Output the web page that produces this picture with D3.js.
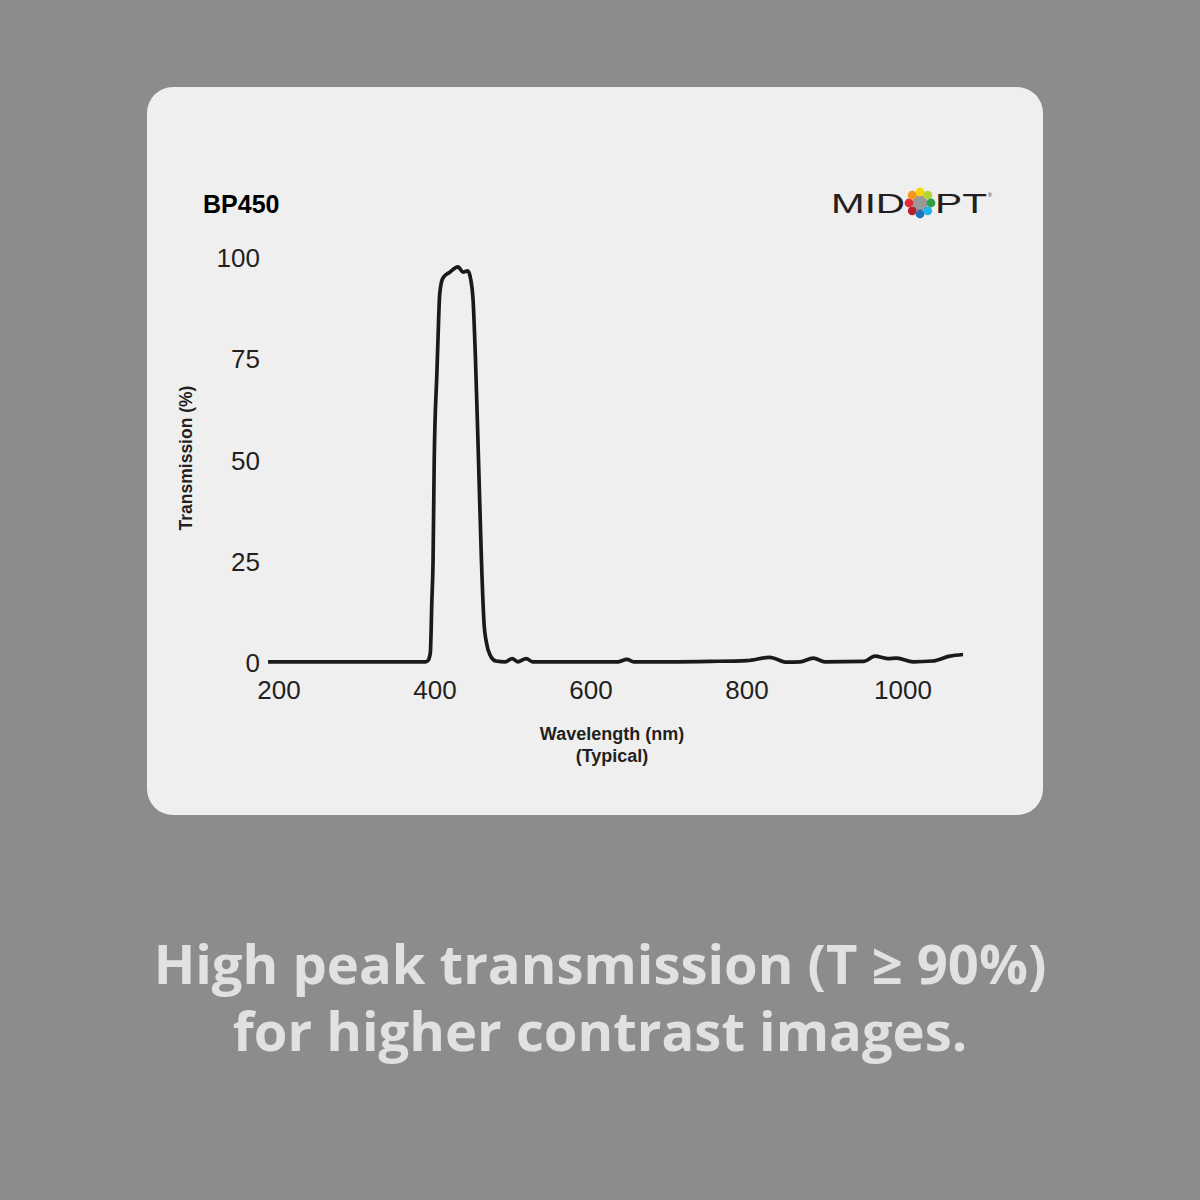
<!DOCTYPE html>
<html>
<head>
<meta charset="utf-8">
<script src="https://cdn.jsdelivr.net/npm/d3@7"></script>
<style>
html,body{margin:0;padding:0;background:#8c8c8c;}
svg{display:block;}
</style>
</head>
<body>
<svg id="chart" width="1200" height="1200"></svg>
<script>
// ---- data ----
const title = "BP450";
const wavelengths = [186,250,300,350,388,391,394,396,397.5,399,402.5,404,406,410,419,429.5,436,442,446,448.7,451.9,455.8,459.6,462.8,466,470.5,478,490,499,506,517,525,560,600,635,646,655,700,753,800,829,851,868,885,900,950,964,980,992,1013,1038,1060,1077];
const transmission = [0.3,0.3,0.3,0.3,0.3,0.6,2.5,15.5,25,50,72,81,91,95,96.5,97.8,96.5,96.8,94.5,90,75,50,25,10,5,2,0.5,0.3,1.1,0.3,1.1,0.3,0.3,0.3,0.3,0.9,0.3,0.3,0.4,0.6,1.4,0.2,0.3,1.2,0.3,0.4,1.7,1.1,1.2,0.3,0.5,1.7,2.1];
const xTicks = [200,400,600,800,1000];
const yTicks = [0,25,50,75,100];
const xTitle = ["Wavelength (nm)","(Typical)"];
const yTitle = "Transmission (%)";
const caption = ["High peak transmission (T \u2265 90%)","for higher contrast images."];
const logoDotColors = ["#f5d60f","#b5d335","#2e9e48","#1fb4e6","#1b75bb","#b8202e","#e22b36","#f7941d"];

const svg = d3.select("#chart");
svg.append("rect").attr("width",1200).attr("height",1200).attr("fill","#8c8c8c");
svg.append("rect").attr("x",147).attr("y",87).attr("width",896).attr("height",728)
  .attr("rx",26).attr("fill","#efefef");

const x = d3.scaleLinear().domain([200,1000]).range([279,903]);
const y = d3.scaleLinear().domain([0,100]).range([663,258]);

const txtColor = "#231f20";
const font = "Liberation Sans, Arial, sans-serif";

// y tick labels
svg.append("g").selectAll("text").data(yTicks).join("text")
  .attr("x",260).attr("y",d=>y(d)).attr("dy","0.35em")
  .attr("text-anchor","end").attr("font-family",font)
  .attr("font-size",26).attr("fill",txtColor).text(d=>d);

// x tick labels
svg.append("g").selectAll("text").data(xTicks).join("text")
  .attr("x",d=>x(d)).attr("y",699)
  .attr("text-anchor","middle").attr("font-family",font)
  .attr("font-size",26).attr("fill",txtColor).text(d=>d);

// axis titles
svg.append("text").attr("transform","translate(192,458) rotate(-90)")
  .attr("text-anchor","middle").attr("font-family",font)
  .attr("font-weight","bold").attr("font-size",17.5).attr("fill",txtColor).text(yTitle);
svg.append("g").selectAll("text").data(xTitle).join("text")
  .attr("x",612).attr("y",(d,i)=>740+i*22)
  .attr("text-anchor","middle").attr("font-family",font)
  .attr("font-weight","bold").attr("font-size",18).attr("fill",txtColor).text(d=>d);

// title
svg.append("text").attr("x",203).attr("y",213)
  .attr("font-family",font).attr("font-weight","bold")
  .attr("font-size",25).attr("fill","#000").text(title);

// curve
const pts = wavelengths.map((w,i)=>[w,transmission[i]]);
const line = d3.line().x(d=>x(d[0])).y(d=>y(d[1])).curve(d3.curveMonotoneX);
svg.append("path").datum(pts).attr("d",line).attr("fill","none")
  .attr("stroke","#1a1a1a").attr("stroke-width",3.7).attr("stroke-linejoin","round");

// logo
const logo = svg.append("g");
logo.append("text").attr("x",831).attr("y",213).attr("textLength",74).attr("lengthAdjust","spacingAndGlyphs")
  .attr("font-family",font).attr("font-size",28).attr("fill","#231f20").text("MID");
logo.append("text").attr("x",935).attr("y",213).attr("textLength",52).attr("lengthAdjust","spacingAndGlyphs")
  .attr("font-family",font).attr("font-size",28).attr("fill","#231f20").text("PT");
logo.append("text").attr("x",988).attr("y",197).attr("font-family",font)
  .attr("font-size",5).attr("fill","#231f20").text("\u00AE");
logo.append("circle").attr("cx",920).attr("cy",203).attr("r",8).attr("fill","#9a9a9a");
logo.selectAll("circle.dot").data(logoDotColors).join("circle").attr("class","dot")
  .attr("cx",(d,i)=>920+11*Math.sin(i*Math.PI/4))
  .attr("cy",(d,i)=>203-11*Math.cos(i*Math.PI/4))
  .attr("r",4.4).attr("fill",d=>d);

// caption
const cap = svg.append("g").selectAll("text").data(caption).join("text")
  .attr("x",600).attr("y",(d,i)=>984+i*67)
  .attr("text-anchor","middle").attr("font-family","Open Sans, sans-serif")
  .attr("font-weight","bold").attr("font-size",52).attr("fill","#e1e1e1").text(d=>d);
const w0 = cap.nodes()[0].getComputedTextLength();
cap.attr("font-size",52*893/w0);
</script>
</body>
</html>
